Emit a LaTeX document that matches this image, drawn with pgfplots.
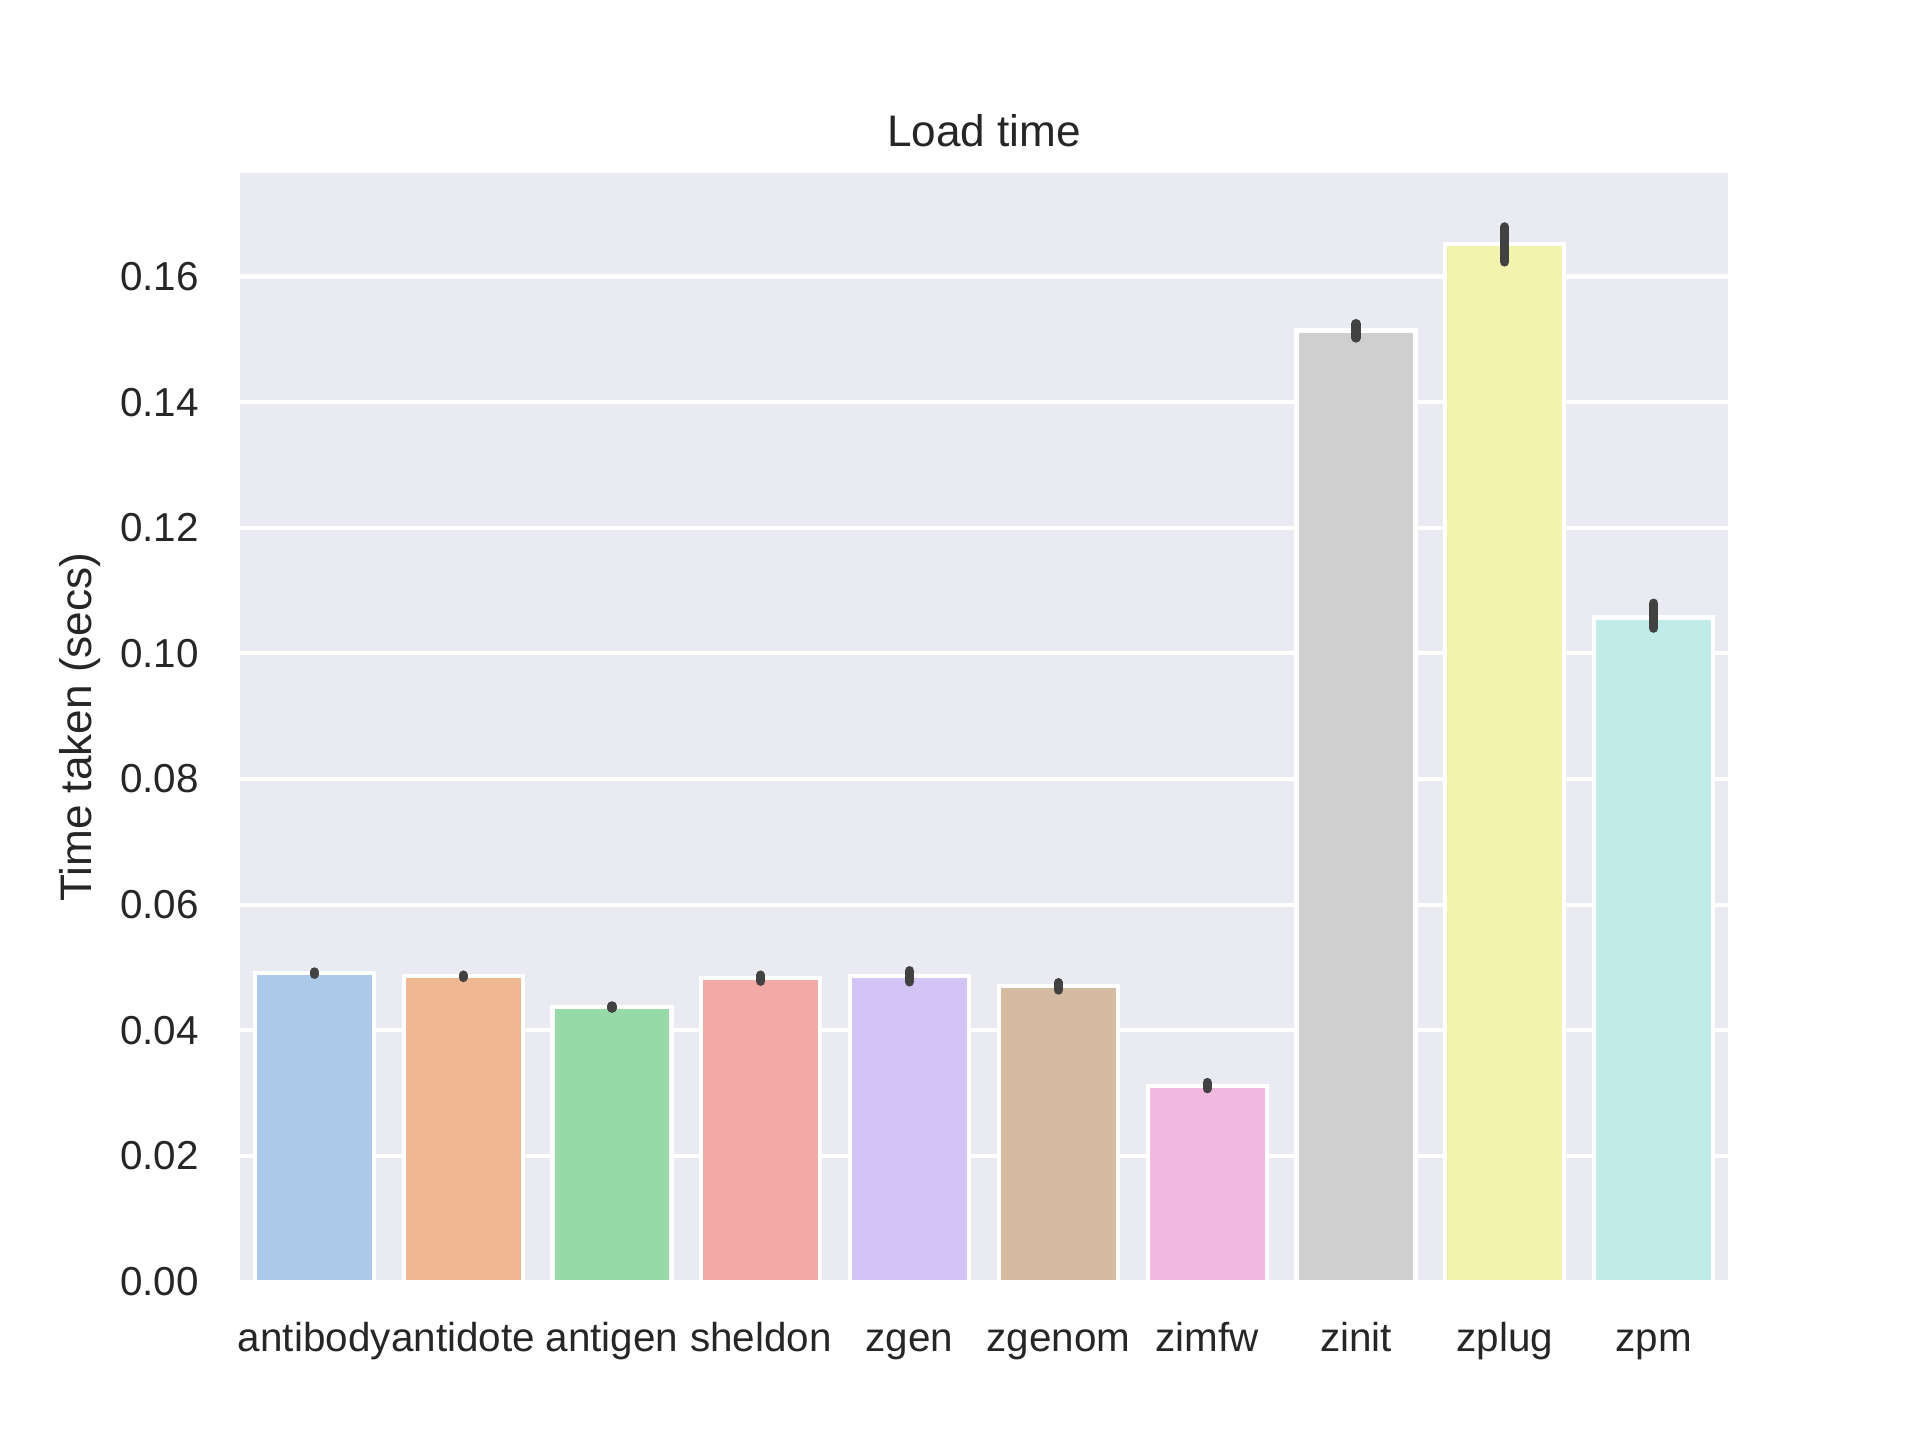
\documentclass[border=0pt]{standalone}
\usepackage{fontspec}
\setmainfont{Liberation Sans}
\usepackage{pgfplots}
\pgfplotsset{compat=1.18}

% seaborn pastel, desaturated to 0.75 as barplot does
\definecolor{c0}{RGB}{171,202,234}
\definecolor{c1}{RGB}{239,183,146}
\definecolor{c2}{RGB}{152,218,167}
\definecolor{c3}{RGB}{242,170,167}
\definecolor{c4}{RGB}{211,196,246}
\definecolor{c5}{RGB}{214,187,163}
\definecolor{c6}{RGB}{241,185,224}
\definecolor{c7}{RGB}{207,207,207}
\definecolor{c8}{RGB}{243,243,174}
\definecolor{c9}{RGB}{192,235,233}
\definecolor{bgc}{RGB}{234,234,242}
\definecolor{errc}{RGB}{66,66,66}
\definecolor{txt}{RGB}{38,38,38}

\pgfplotsset{
  sbar/.style={fill=#1, draw=white, line width=1pt, bar shift=0pt,
    error bars/.cd, y dir=both, y explicit},
}

\begin{document}
\begin{tikzpicture}
\path[use as bounding box] (0,0) rectangle (460.8pt,345.6pt);
\begin{axis}[
    at={(57.6pt,38.016pt)}, anchor=south west,
    scale only axis,
    width=357.12pt, height=266.112pt,
    ybar, bar width=0.8,
    xmin=-0.5, xmax=9.5,
    ymin=0, ymax=0.1765,
    xtick={0,...,9},
    xticklabels={antibody,antidote,antigen,sheldon,zgen,zgenom,zimfw,zinit,zplug,zpm},
    ytick={0,0.02,...,0.16},
    yticklabel style={/pgf/number format/fixed, /pgf/number format/zerofill,
      /pgf/number format/precision=2, /pgf/number format/assume math mode=true,
      inner sep=0pt, anchor=east, xshift=-9.7pt},
    scaled y ticks=false,
    major tick length=0pt,
    axis line style={draw=none},
    axis background/.style={fill=bgc},
    ymajorgrids, grid style={white, line width=1pt},
    tick label style={font=\fontsize{9.7}{11}\selectfont, text=txt},
    xticklabel style={inner sep=0pt, text height=7pt, anchor=north, yshift=-9.5pt},
    ylabel={Time taken (secs)},
    every axis y label/.style={at={(axis description cs:-0.1075,0.5)}, anchor=center, rotate=90,
      font=\fontsize{10.6}{12}\selectfont, text=txt},
    title={Load time},
    every axis title/.style={at={(axis description cs:0.5,1)}, anchor=base, yshift=6.2pt,
      font=\fontsize{10.6}{12}\selectfont, text=txt},
    error bars/error mark=none,
    error bars/error bar style={color=errc, line width=2.2pt, line cap=round},
]
\addplot[sbar=c0] coordinates {(0,0.0491) += (0,0.0002) -= (0,0.0002)};
\addplot[sbar=c1] coordinates {(1,0.0486) += (0,0.0002) -= (0,0.0002)};
\addplot[sbar=c2] coordinates {(2,0.0437) += (0,0.0002) -= (0,0.0002)};
\addplot[sbar=c3] coordinates {(3,0.0483) += (0,0.0005) -= (0,0.0005)};
\addplot[sbar=c4] coordinates {(4,0.0486) += (0,0.0009) -= (0,0.0009)};
\addplot[sbar=c5] coordinates {(5,0.0470) += (0,0.0006) -= (0,0.0006)};
\addplot[sbar=c6] coordinates {(6,0.0312) += (0,0.0005) -= (0,0.0005)};
\addplot[sbar=c7] coordinates {(7,0.1514) += (0,0.0011) -= (0,0.0012)};
\addplot[sbar=c8] coordinates {(8,0.1651) += (0,0.0028) -= (0,0.0028)};
\addplot[sbar=c9] coordinates {(9,0.1057) += (0,0.0023) -= (0,0.0017)};
\end{axis}
\end{tikzpicture}
\end{document}
